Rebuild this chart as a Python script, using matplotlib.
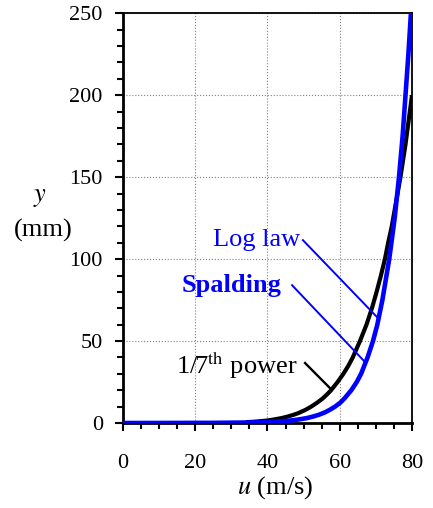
import matplotlib
matplotlib.use("Agg")
import matplotlib.pyplot as plt
from matplotlib.ticker import MultipleLocator

# Perfil de velocidad 1/7 (negro)
u_power = [34.0, 36.0, 37.5, 39.8, 41.4, 43.9, 45.7, 47.2, 48.5, 50.5, 52.1,
           53.8, 55.3, 56.5, 57.6, 59.4, 61.0, 62.4, 63.6, 64.6, 65.6, 66.5,
           67.4, 68.9, 70.2, 71.4, 72.5, 73.4, 74.4, 75.2, 76.0, 76.8, 77.5,
           78.2, 78.8, 79.4, 80.0]
y_power = [0.5, 0.75, 1.0, 1.5, 2.0, 3.0, 4.0, 5.0, 6.0, 8.0, 10.0,
           12.5, 15.0, 17.5, 20.0, 25.0, 30.0, 35.0, 40.0, 45.0, 50.0, 55.0,
           60.0, 70.0, 80.0, 90.0, 100.0, 110.0, 120.0, 130.0, 140.0, 150.0, 160.0,
           170.0, 180.0, 190.0, 200.0]

# Ley logarítmica / Spalding (azul)
u_log = [0.0, 12.0, 25.0, 34.0, 40.0, 43.7, 46.3, 48.2, 50.9, 52.7, 54.2,
         55.9, 57.2, 58.7, 60.2, 61.3, 63.2, 64.7, 65.9, 67.7, 69.2, 70.4,
         71.8, 73.7, 75.2, 76.4, 77.4, 78.2, 79.0, 79.7]
y_log = [0.0, 0.03, 0.1, 0.3, 0.6, 1.0, 1.5, 2.0, 3.0, 4.0, 5.0,
         6.5, 8.0, 10.0, 12.5, 15.0, 20.0, 25.0, 30.0, 40.0, 50.0, 60.0,
         75.0, 100.0, 125.0, 150.0, 175.0, 200.0, 225.0, 250.0]

BLUE = "#0000FF"
plt.rcParams["font.family"] = ["Liberation Serif", "DejaVu Serif"]
plt.rcParams["mathtext.fontset"] = "stix"

fig = plt.figure(figsize=(4.33, 5.08), dpi=100)
ax = fig.add_axes([0.284, 0.1673, 0.6675, 0.8065])

ax.plot(u_power, y_power, color="black", lw=3.0, zorder=3, solid_capstyle="butt")
ax.plot(u_log, y_log, color=BLUE, lw=3.3, zorder=4, solid_capstyle="butt")

ax.set_xlim(0, 80)
ax.set_ylim(0, 250)
ax.xaxis.set_major_locator(MultipleLocator(20))
ax.xaxis.set_minor_locator(MultipleLocator(5))
ax.yaxis.set_major_locator(MultipleLocator(50))
ax.yaxis.set_minor_locator(MultipleLocator(10))
ax.grid(True, which="major", color="gray", ls=":", lw=0.8)
ax.tick_params(which="major", direction="out", length=5.5, width=1.5, labelsize=16)
ax.tick_params(which="minor", direction="out", length=4, width=1.5)
ax.tick_params(axis="x", which="major", pad=17)
ax.tick_params(axis="y", which="major", pad=9)
for sp in ax.spines.values():
    sp.set_linewidth(1.3)
ax.spines["left"].set_linewidth(2.0)
ax.spines["bottom"].set_linewidth(2.0)

# etiquetas de ejes
fig.text(0.635, 0.041, r"$u$ (m/s)", fontsize=19, ha="center", va="center")
fig.text(0.092, 0.610, r"$y$", fontsize=19, ha="center", va="center")
fig.text(0.099, 0.547, "(mm)", fontsize=19, ha="center", va="center")

# rótulos con líneas guía
ax.text(49.0, 111.6, "Log law", color=BLUE, fontsize=19, ha="right", va="center")
ax.plot([49.8, 70.6], [111.6, 64.0], color=BLUE, lw=1.4, zorder=5)
ax.text(44.0, 84.1, "Spalding", color=BLUE, fontsize=19, fontweight="bold",
        ha="right", va="center")
ax.plot([46.8, 67.0], [84.1, 37.2], color=BLUE, lw=1.4, zorder=5)
ax.text(48.4, 35.4, r"1/7$^{\mathrm{th}}$ power", color="black", fontsize=19,
        ha="right", va="center")
ax.plot([50.4, 57.3], [36.6, 21.3], color="black", lw=1.7, zorder=5)

fig.savefig("out.png", dpi=100)
